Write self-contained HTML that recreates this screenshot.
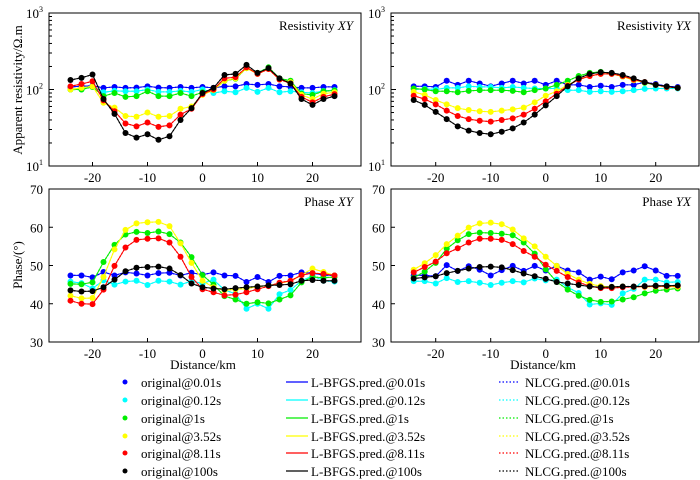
<!DOCTYPE html>
<html><head><meta charset="utf-8"><style>
body{margin:0;background:#fff}
svg{display:block;font-family:"Liberation Serif",serif}
</style></head><body>
<svg id="c" width="700" height="480" viewBox="0 0 700 480"></svg>
<script>
const dist=[-24,-22,-20,-18,-16,-14,-12,-10,-8,-6,-4,-2,0,2,4,6,8,10,12,14,16,18,20,22,24];
const periods=["0.01s","0.12s","1s","3.52s","8.11s","100s"];
const colors=["#0000ff","#00ffff","#00ee00","#ffff00","#ff0000","#000000"];
const rxyBlue=[108,110,112,105,108,105,106,110,106,105,108,105,108,105,110,110,118,115,118,110,108,105,105,108,108];
const rxyCyan=[100,100,110,92,96,95,95,100,93,93,96,93,100,90,95,92,105,93,105,92,95,92,90,96,98];
const rxyGreen=[100,100,108,82,90,80,82,95,82,82,90,82,92,100,130,138,190,165,195,140,130,88,85,95,97];
const rxyYellow=[100,105,110,67,58,45,44,50,44,45,56,60,85,98,130,140,190,160,185,135,125,85,75,88,92];
const rxyRed=[110,118,128,72,52,36,33,37,32.5,34,47,56,87,100,140,145,195,160,185,135,120,80,68,80,87];
const rxyBlack=[133,142,157,75,48,27,23.5,26,22,24.5,40,57,90,105,155,160,210,165,190,140,120,75,63,75,82];
const ryxBlue=[110,110,108,130,115,130,120,110,120,130,120,130,115,130,115,115,108,112,108,115,115,125,118,110,108];
const ryxCyan=[100,102,100,105,105,110,108,108,105,108,105,103,103,103,98,98,93,95,93,95,98,102,103,103,103];
const ryxGreen=[103,100,95,95,92,96,98,98,98,96,92,98,103,115,130,150,165,170,162,148,135,122,115,108,105];
const ryxYellow=[93,85,73,64,57,54,52,51,53,55,58,68,83,95,115,135,150,160,160,148,132,125,115,108,105];
const ryxRed=[83,75,64,53,45,41,39,38,40,42,47,56,70,88,112,135,150,160,160,150,135,125,115,108,105];
const ryxBlack=[73,63,51,41,33,29,27,26,28,31,37,47,62,82,110,140,160,168,165,155,140,125,115,110,105];
const pxyBlue=[47.4,47.4,46.9,48.3,47.4,48.2,47.9,47.4,48.0,48.1,47.4,48.1,47.6,48.2,47.4,47.3,45.7,47.0,45.7,47.3,47.4,48.2,48.0,47.5,47.4];
const pxyCyan=[45.8,45.4,44.0,46.1,45.0,45.8,46.0,44.9,46.0,45.8,45.0,45.9,45.3,46.3,43.6,42.6,38.7,40.0,38.7,42.5,43.6,46.0,47.3,46.0,45.8];
const pxyGreen=[45.2,45.1,45.6,50.9,55.4,58.1,58.8,58.5,58.9,58.2,56.0,52.2,47.5,45.0,42.0,41.1,40.0,40.4,40.1,41.1,42.2,45.6,47.0,46.8,47.0];
const pxyYellow=[42.1,41.4,41.5,47.0,54.2,59.3,61.0,61.3,61.4,60.3,55.8,50.7,46.0,44.3,43.5,43.8,43.9,44.5,44.7,45.4,45.9,47.5,49.2,48.3,47.4];
const pxyRed=[40.8,40.0,39.9,43.7,49.9,54.7,56.7,57.0,57.1,56.0,52.3,47.0,43.8,43.0,42.2,42.4,43.0,43.8,44.6,45.5,46.0,47.5,48.0,47.8,47.4];
const pxyBlack=[43.5,43.2,43.3,44.3,46.3,48.5,49.4,49.6,49.7,49.2,47.5,45.3,44.3,44.0,43.8,44.1,44.3,44.5,44.8,44.9,45.1,46.0,46.2,46.0,46.0];
const pyxBlue=[47.4,47.4,47.2,50.1,48.6,49.8,48.9,47.4,48.8,49.9,48.6,49.9,48.7,49.9,48.7,48.2,46.3,47.1,46.4,48.2,48.7,49.8,48.7,47.3,47.3];
const pyxCyan=[45.9,45.9,45.3,46.7,45.7,45.9,45.5,44.9,45.5,45.9,45.6,46.6,46.1,46.3,44.3,42.8,39.8,40.1,39.7,42.7,43.9,46.3,46.3,45.6,45.7];
const pyxGreen=[46.8,48.4,50.7,54.4,56.6,58.2,58.6,58.5,58.3,57.9,56.0,53.1,49.0,45.7,43.7,42.1,41.0,40.5,40.6,41.1,41.7,42.7,43.4,43.7,44.0];
const pyxYellow=[48.9,50.6,52.7,55.6,57.8,59.9,61.0,61.2,60.8,59.4,57.1,55.0,52.3,49.9,47.8,46.3,45.2,44.6,44.4,44.5,44.4,44.4,44.5,44.5,44.4];
const pyxRed=[48.2,49.6,51.0,53.2,54.5,56.0,57.0,57.0,56.7,55.6,53.8,52.3,50.2,48.6,47.0,45.6,44.6,44.1,44.1,44.3,44.4,44.5,44.6,44.6,44.7];
const pyxBlack=[46.6,46.9,47.2,48.0,48.6,49.2,49.6,49.7,49.5,48.8,47.9,47.2,46.5,45.7,45.3,44.9,44.5,44.3,44.4,44.5,44.5,44.6,44.7,44.7,44.8];
const xTicks=[-20,-10,0,10,20];
const phaseTicks=[30,40,50,60,70];

const NS="http://www.w3.org/2000/svg";
const svg=document.getElementById('c');
function mk(tag,attrs,parent){const e=document.createElementNS(NS,tag);for(const k in attrs)e.setAttribute(k,attrs[k]);(parent||svg).appendChild(e);return e;}
function txt(s,attrs,parent){const e=mk('text',attrs,parent);e.textContent=s;return e;}

const panels=[
 {name:'resistivity-xy',x0:49,x1:361,y0:13,y1:166,zero:202.5,log:true,title:'Resistivity ',it:'XY',series:[rxyBlue,rxyCyan,rxyGreen,rxyYellow,rxyRed,rxyBlack]},
 {name:'resistivity-yx',x0:391,x1:699,y0:13,y1:166,zero:545.7,log:true,title:'Resistivity ',it:'YX',series:[ryxBlue,ryxCyan,ryxGreen,ryxYellow,ryxRed,ryxBlack]},
 {name:'phase-xy',x0:49,x1:361,y0:189,y1:342,zero:202.5,log:false,title:'Phase ',it:'XY',series:[pxyBlue,pxyCyan,pxyGreen,pxyYellow,pxyRed,pxyBlack]},
 {name:'phase-yx',x0:391,x1:699,y0:189,y1:342,zero:545.7,log:false,title:'Phase ',it:'YX',series:[pyxBlue,pyxCyan,pyxGreen,pyxYellow,pyxRed,pyxBlack]}
];
panels.forEach(p=>{
 const g=mk('g',{});
 
 
 const sx=v=>p.zero+v*5.5;
 const sy=p.log?(v=>p.y1-(Math.log10(v)-1)*(p.y1-p.y0)/2):(v=>p.y1-(v-30)*(p.y1-p.y0)/40);
 const frame=mk('rect',{x:p.x0,y:p.y0,width:p.x1-p.x0,height:p.y1-p.y0,fill:'none',stroke:'#000','stroke-width':1},g);
 
 
 xTicks.forEach(t=>{
  const X=sx(t);
  mk('line',{x1:X,x2:X,y1:p.y1,y2:p.y1-4,stroke:'#000'},g);
  const l=txt(String(t),{x:X,y:p.y1+16,'text-anchor':'middle','font-size':13},g);
  
  
 });
 if(p.log){
  [1,2,3].forEach(d=>{
   const Y=sy(Math.pow(10,d));
   mk('line',{x1:p.x0,x2:p.x0+5,y1:Y,y2:Y,stroke:'#000'},g);
   const l=txt('10',{x:p.x0-6,y:Y+5,'text-anchor':'end','font-size':13},g);
   const s=mk('tspan',{dy:-6,'font-size':8},l);s.textContent=String(d);
   
   
   if(d<3)for(let m=2;m<10;m++){const Ym=sy(m*Math.pow(10,d));mk('line',{x1:p.x0,x2:p.x0+3,y1:Ym,y2:Ym,stroke:'#000'},g);}
  });
 } else {
  phaseTicks.forEach(t=>{
   const Y=sy(t);
   mk('line',{x1:p.x0,x2:p.x0+4,y1:Y,y2:Y,stroke:'#000'},g);
   const l=txt(String(t),{x:p.x0-6,y:Y+5,'text-anchor':'end','font-size':13},g);
   
   
  });
 }
 const tt=txt(p.title,{x:p.x1-8,y:p.y0+17,'text-anchor':'end','font-size':13},g);
 const it=mk('tspan',{'font-style':'italic'},tt);it.textContent=p.it;
 
 
 p.series.forEach((vals,i)=>{
  const pts=vals.map((v,j)=>sx(dist[j]).toFixed(1)+','+sy(v).toFixed(1)).join(' ');
  const ln=mk('polyline',{points:pts,fill:'none',stroke:colors[i],'stroke-width':1},g);
  
  
  const dl=mk('polyline',{points:pts,fill:'none',stroke:colors[i],'stroke-width':1.2,'stroke-dasharray':'1.5,2'},g);
  
  
  vals.forEach((v,j)=>{
   const c=mk('circle',{cx:sx(dist[j]),cy:sy(v),r:3,fill:colors[i]},g);
   
   
  });
 });
 if(!p.log){
  const xl=txt('Distance/km',{x:(p.x0+p.x1)/2-2,y:369,'text-anchor':'middle','font-size':13},g);
  
  
 }
});
const y1=txt('Apparent resistivity/Ω.m',{x:0,y:0,'text-anchor':'middle','font-size':13,transform:'translate(22,90) rotate(-90)'});


const y2=txt('Phase/(°)',{x:0,y:0,'text-anchor':'middle','font-size':13,transform:'translate(22,265) rotate(-90)'});


const rowsY=[383,401,419,437,454,472];
periods.forEach((p,i)=>{
 const Y=rowsY[i];
 const e1=mk('g',{});
 
 
 mk('circle',{cx:125,cy:Y-1,r:2.5,fill:colors[i]},e1);
 txt('original@'+p,{x:141,y:Y+4,'font-size':13},e1);
 const e2=mk('g',{});
 
 
 mk('line',{x1:286,x2:308,y1:Y-1,y2:Y-1,stroke:colors[i],'stroke-width':1.2},e2);
 txt('L-BFGS.pred.@'+p,{x:311,y:Y+4,'font-size':13},e2);
 const e3=mk('g',{});
 
 
 mk('line',{x1:499,x2:520,y1:Y-1,y2:Y-1,stroke:colors[i],'stroke-width':1.2,'stroke-dasharray':'1.5,2'},e3);
 txt('NLCG.pred.@'+p,{x:525,y:Y+4,'font-size':13},e3);
});
</script>
</body></html>
